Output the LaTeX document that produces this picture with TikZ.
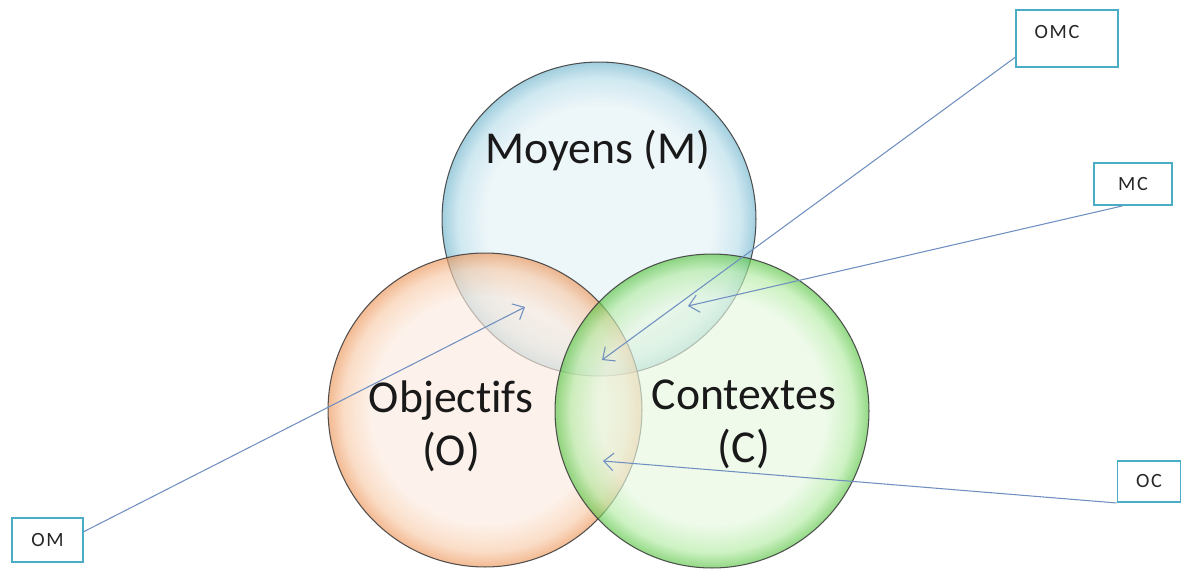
\documentclass[tikz,border=0pt]{standalone}
\usepackage{fontspec}
\setmainfont[Ligatures=NoCommon]{Carlito}
\usepackage{xcolor}
\usetikzlibrary{arrows.meta}

\definecolor{mLight}{HTML}{E4F1F6}
\definecolor{mMid}{HTML}{B6DCE9}
\definecolor{mDark}{HTML}{6FB4CC}
\definecolor{oLight}{HTML}{FCEBE0}
\definecolor{oMid}{HTML}{F8CBA9}
\definecolor{oDark}{HTML}{EC9559}
\definecolor{cLight}{HTML}{E6F8E0}
\definecolor{cMid}{HTML}{B3EBA3}
\definecolor{cDark}{HTML}{58C443}
\definecolor{bordure}{HTML}{4BACC6}
\definecolor{trait}{HTML}{6F8FC0}

\pgfdeclareradialshading{glossM}{\pgfpoint{0bp}{0bp}}{color(0bp)=(mLight); color(18bp)=(mLight); color(22.5bp)=(mMid); color(25bp)=(mDark); color(50bp)=(mDark)}
\pgfdeclareradialshading{glossO}{\pgfpoint{0bp}{0bp}}{color(0bp)=(oLight); color(18bp)=(oLight); color(22.5bp)=(oMid); color(25bp)=(oDark); color(50bp)=(oDark)}
\pgfdeclareradialshading{glossC}{\pgfpoint{0bp}{0bp}}{color(0bp)=(cLight); color(18bp)=(cLight); color(22.5bp)=(cMid); color(25bp)=(cDark); color(50bp)=(cDark)}

\tikzset{
	disque/.style={circle, minimum size=6.28cm, inner sep=0pt, draw=black!75, line width=0.6pt, fill opacity=0.65, draw opacity=0.9},
	grand/.style={font=\fontsize{26}{30}\selectfont, text=black!90, align=center},
	petit/.style={font=\fontsize{11.5}{13}\selectfont\addfontfeature{LetterSpace=8}, text=black!85},
	etiquette/.style={draw=bordure, line width=1.1pt, fill=white, inner sep=0pt},
	fleche/.style={draw=trait, line width=0.6pt}
}

\begin{document}
\begin{tikzpicture}[x=0.02cm, y=-0.02cm, > = {Straight Barb[length=5.5pt, width=10pt]}]
	\useasboundingbox (0,0) rectangle (1182,568);
	
	%% Cercles
	\node [disque, shading=glossM] (moyens) at (599,219) {};
	\node [disque, shading=glossO] (objectifs) at (485,410) {};
	\node [disque, shading=glossC] (contextes) at (712,411) {};
	
	%% Textes
	\node [grand] (txtM) at (598,150) {Moyens (M)};
	\node [grand] (txtO) at (451,426) {Objectifs\\(O)};
	\node [grand] (txtC) at (744,424) {Contextes\\(C)};
	
	%% Etiquettes
	\node [etiquette, minimum width=2.04cm, minimum height=1.14cm] (omc) at (1067,38.5) {};
	\node [petit] (txtOMC) at (1057,32) {OMC};
	\node [etiquette, petit, minimum width=1.56cm, minimum height=0.84cm] (mc) at (1133,184) {MC};
	\node [etiquette, petit, minimum width=1.26cm, minimum height=0.82cm] (oc) at (1149,481.5) {OC};
	\node [etiquette, petit, minimum width=1.42cm, minimum height=0.88cm] (om) at (47.5,540) {OM};
	
	%% Fleches
	\coordinate (pOMC) at (602,360);
	\coordinate (pMC) at (688,306);
	\coordinate (pOC) at (603,461);
	\coordinate (pOM) at (525,307);
	
	\draw [fleche, ->] (omc.200) -- (pOMC);
	\draw [fleche, ->] (mc.244) -- (pMC);
	\draw [fleche, ->] (oc.south west) -- (pOC);
	\draw [fleche, ->] (om.13) -- (pOM);
\end{tikzpicture}
\end{document}
